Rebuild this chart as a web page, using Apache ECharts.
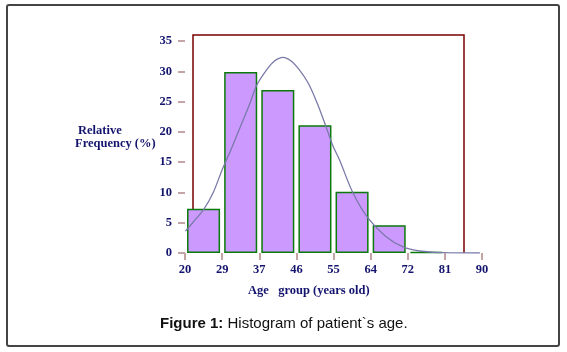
<!DOCTYPE html>
<html>
<head>
<meta charset="utf-8">
<script src="https://cdn.jsdelivr.net/npm/echarts@6/dist/echarts.min.js"></script>
<style>
  html, body { margin: 0; padding: 0; background: #fff; }
  #chart { width: 567px; height: 352px; }
</style>
</head>
<body>
<div id="chart"></div>
<script>
  // tick labels along the age axis (bin edges)
  const ageTicks = ['20', '29', '37', '46', '55', '64', '72', '81', '90']
  // relative frequency per age bin (%)
  const binValues = [7.3, 29.9, 26.9, 21.1, 10.1, 4.6, 0.2, 0]
  const yTicks = [0, 5, 10, 15, 20, 25, 30, 35]
  // fitted normal curve: age, %
  const curveAge = [20.1, 21.8, 24.5, 26.6, 28.9, 30.5, 32.9, 35.2, 36.9, 39.2, 41.1, 43.1, 45.0, 47.0, 49.0, 51.0, 52.9, 54.8, 56.4, 59.6, 63.1, 67.4, 71.4, 75.3, 80.8, 89.5]
  const curveVal = [3.6, 5.0, 7.3, 9.9, 14.0, 16.5, 20.6, 24.5, 27.7, 30.2, 31.7, 32.3, 31.7, 30.2, 28.1, 25.0, 21.5, 17.8, 15.4, 9.9, 5.8, 2.7, 1.0, 0.33, 0.05, 0]

  const serif = '"Times New Roman", "Liberation Serif", serif'
  const sans = '"Liberation Sans", Arial, sans-serif'
  const navy = '#14146e'
  const tickColor = '#c4a4a4'

  // ticks are evenly spaced 20..90, one step per bin
  const ageStep = (90 - 20) / (ageTicks.length - 1)
  const curveData = curveAge.map((a, i) => [(a - 20) / ageStep, curveVal[i]])
  const barData = binValues.map(v => (v > 0 ? v : '-'))

  const myChart = echarts.init(document.getElementById('chart'))
  myChart.setOption({
    animation: false,
    grid: { left: 185, right: 85, top: 41, bottom: 99 },
    xAxis: [
      {
        type: 'value',
        min: 0,
        max: ageTicks.length - 1,
        interval: 1,
        axisLine: { show: false },
        axisTick: { show: true, length: 7, lineStyle: { color: tickColor, width: 2 } },
        splitLine: { show: false },
        axisLabel: {
          margin: 10,
          color: navy,
          fontFamily: serif,
          fontWeight: 'bold',
          fontSize: 12.5,
          formatter: v => ageTicks[Math.round(v)]
        }
      },
      {
        type: 'category',
        data: binValues.map((v, i) => ageTicks[i] + '-' + ageTicks[i + 1]),
        show: false
      }
    ],
    yAxis: {
      type: 'value',
      min: 0,
      max: yTicks[yTicks.length - 1],
      interval: 5,
      axisLine: { show: false },
      axisTick: { show: true, length: 7, lineStyle: { color: tickColor, width: 2 } },
      splitLine: { show: false },
      axisLabel: {
        margin: 13,
        color: navy,
        fontFamily: serif,
        fontWeight: 'bold',
        fontSize: 12.5
      }
    },
    graphic: [
      { // outer frame
        type: 'rect',
        shape: { x: 7, y: 5, width: 552, height: 341, r: 2 },
        style: { fill: 'none', stroke: '#444', lineWidth: 2 },
        z: 0
      },
      { // dark red box behind the bars
        type: 'polyline',
        shape: { points: [[193, 253], [193, 35], [464, 35], [464, 253]] },
        style: { fill: 'none', stroke: '#7a0000', lineWidth: 1.5 },
        z: 0
      },
      {
        type: 'text', left: 78, top: 124,
        style: { text: 'Relative', fill: navy, font: 'bold 12.5px ' + serif }
      },
      {
        type: 'text', left: 75, top: 137,
        style: { text: 'Frequency (%)', fill: navy, font: 'bold 12.5px ' + serif }
      },
      {
        type: 'text', left: 248, top: 284,
        style: { text: 'Age   group (years old)', fill: navy, font: 'bold 12.5px ' + serif }
      },
      {
        type: 'text', left: 160, top: 316,
        style: {
          text: '{b|Figure 1:} Histogram of patient`s age.',
          fill: '#111',
          font: '15px ' + sans,
          rich: {
            b: { fontWeight: 'bold', fontSize: 15, fontFamily: sans, fill: '#111' }
          }
        }
      }
    ],
    series: [
      {
        type: 'bar',
        xAxisIndex: 1,
        data: barData,
        barWidth: '89%',
        z: 3,
        itemStyle: {
          color: '#cc99ff',
          borderColor: '#0a7a0a',
          borderWidth: 1.5
        }
      },
      {
        type: 'line',
        xAxisIndex: 0,
        data: curveData,
        smooth: 0.35,
        showSymbol: false,
        z: 4,
        lineStyle: { color: '#7a7aaa', width: 1.3 }
      }
    ]
  })
</script>
</body>
</html>
